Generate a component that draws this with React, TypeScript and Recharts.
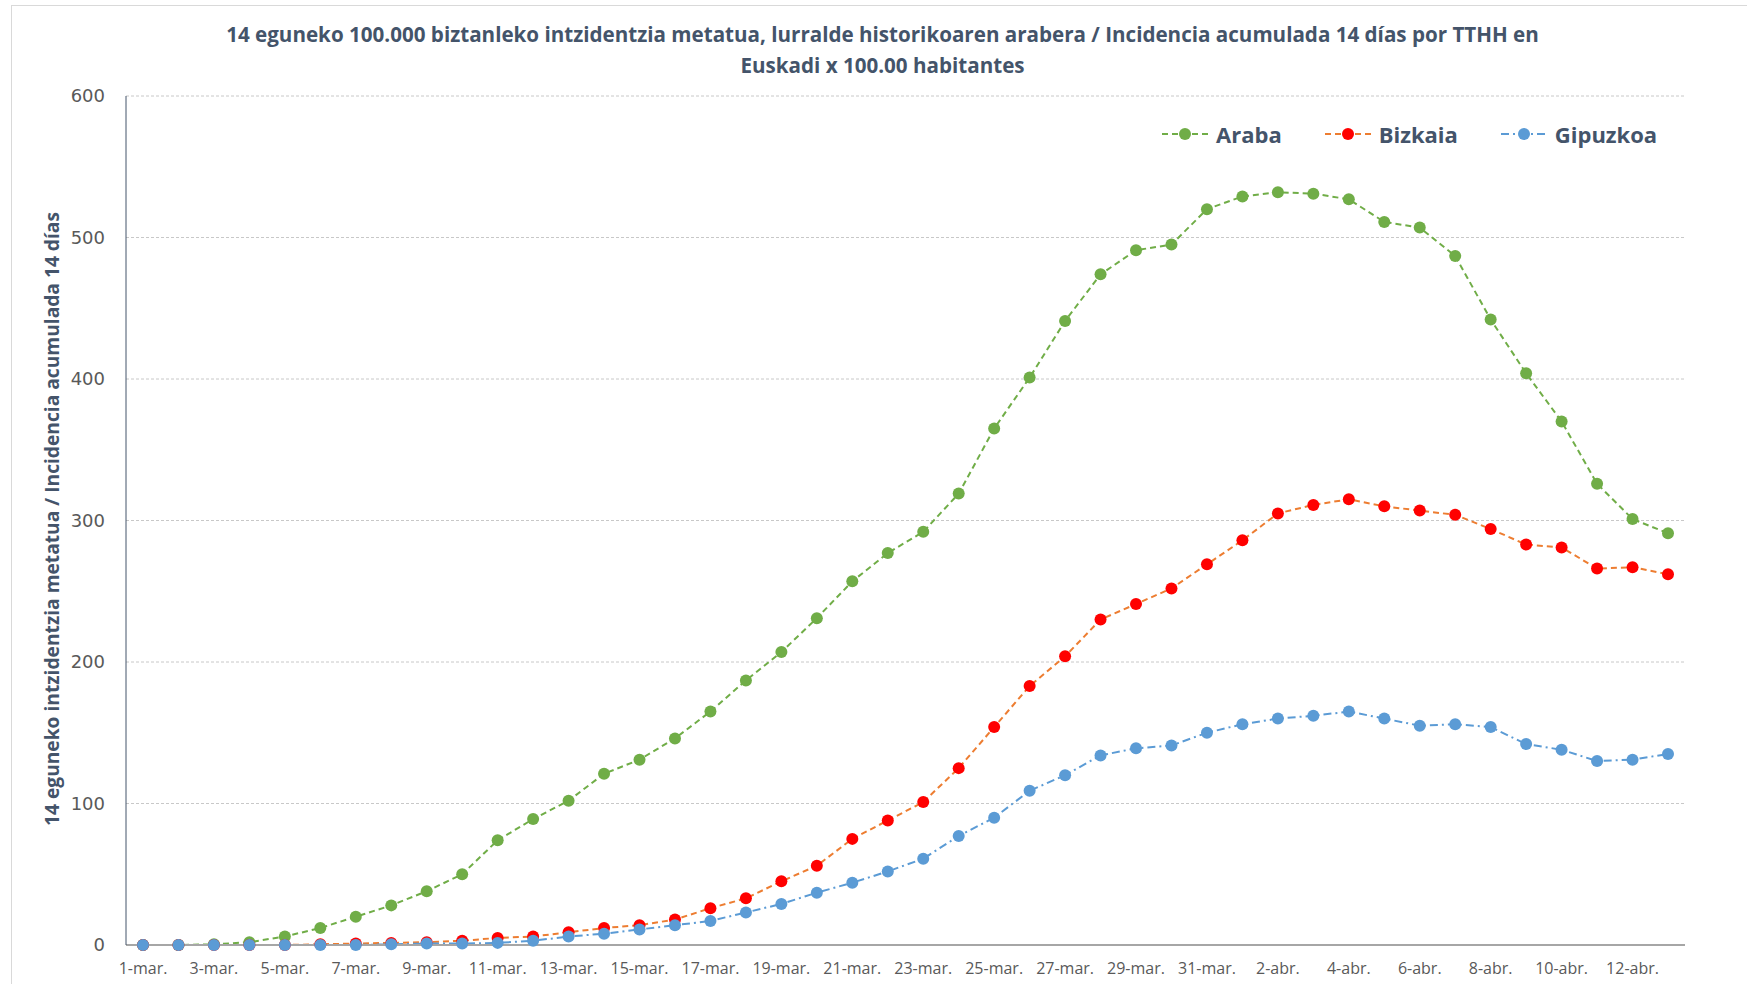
import { LineChart, Line, XAxis, YAxis, CartesianGrid } from "recharts";

const dates = [
  "1-mar.", "2-mar.", "3-mar.", "4-mar.", "5-mar.", "6-mar.", "7-mar.", "8-mar.", "9-mar.", "10-mar.",
  "11-mar.", "12-mar.", "13-mar.", "14-mar.", "15-mar.", "16-mar.", "17-mar.", "18-mar.", "19-mar.", "20-mar.",
  "21-mar.", "22-mar.", "23-mar.", "24-mar.", "25-mar.", "26-mar.", "27-mar.", "28-mar.", "29-mar.", "30-mar.",
  "31-mar.", "1-abr.", "2-abr.", "3-abr.", "4-abr.", "5-abr.", "6-abr.", "7-abr.", "8-abr.", "9-abr.",
  "10-abr.", "11-abr.", "12-abr.", "13-abr.",
];

const araba = [
  0, 0, 0.5, 2, 6, 12, 20, 28, 38, 50,
  74, 89, 102, 121, 131, 146, 165, 187, 207, 231,
  257, 277, 292, 319, 365, 401, 441, 474, 491, 495,
  520, 529, 532, 531, 527, 511, 507, 487, 442, 404,
  370, 326, 301, 291,
];

const bizkaia = [
  0, 0, 0, 0, 0, 0.5, 1, 1.5, 2, 3,
  5, 6, 9, 12, 14, 18, 26, 33, 45, 56,
  75, 88, 101, 125, 154, 183, 204, 230, 241, 252,
  269, 286, 305, 311, 315, 310, 307, 304, 294, 283,
  281, 266, 267, 262,
];

const gipuzkoa = [
  0, 0, 0, 0, 0, 0, 0, 0.5, 1, 1,
  1.5, 3, 6, 8, 11, 14, 17, 23, 29, 37,
  44, 52, 61, 77, 90, 109, 120, 134, 139, 141,
  150, 156, 160, 162, 165, 160, 155, 156, 154, 142,
  138, 130, 131, 135,
];

const yTicks = [0, 100, 200, 300, 400, 500, 600];

const seriesStyles = [
  { key: "Araba", line: "#70AD47", dot: "#70AD47", dash: "6 4" },
  { key: "Bizkaia", line: "#ED7D31", dot: "#FF0000", dash: "6 4" },
  { key: "Gipuzkoa", line: "#5B9BD5", dot: "#5B9BD5", dash: "8 4 2 4" },
];

const data = dates.map((d, i) => ({
  date: d,
  Araba: araba[i],
  Bizkaia: bizkaia[i],
  Gipuzkoa: gipuzkoa[i],
}));

const title1 =
  "14 eguneko 100.000 biztanleko intzidentzia metatua, lurralde historikoaren arabera / Incidencia acumulada 14 días por TTHH en";
const title2 = "Euskadi x 100.00 habitantes";
const yTitle = "14 eguneko intzidentzia metatua / Incidencia acumulada 14 días";

function LegendBox() {
  return (
    <div
      style={{
        position: "absolute",
        left: 1162,
        top: 120,
        display: "flex",
        alignItems: "center",
        fontFamily: "'Open Sans', sans-serif",
      }}
    >
      {seriesStyles.map((s) => (
        <div key={s.key} style={{ display: "flex", alignItems: "center", marginRight: 43 }}>
          <svg width={46} height={16}>
            <line x1={0} y1={8} x2={46} y2={8} stroke={s.line} strokeWidth={2} strokeDasharray={s.dash} />
            <circle cx={23} cy={8} r={6} fill={s.dot} />
          </svg>
          <span style={{ marginLeft: 8, fontSize: 22, fontWeight: 700, color: "#44546A", lineHeight: "28px" }}>
            {s.key}
          </span>
        </div>
      ))}
    </div>
  );
}

export default function App() {
  return (
    <div style={{ position: "absolute", left: 0, top: 0, width: 1747, height: 984, background: "#fff", overflow: "hidden" }}>
      <div
        style={{
          position: "absolute",
          left: 11,
          top: 5,
          width: 1800,
          height: 1000,
          border: "1px solid #D9D9D9",
        }}
      />
      <div
        style={{
          position: "absolute",
          left: 0,
          top: 19,
          width: 1747,
          textAlign: "center",
          fontFamily: "'Open Sans', sans-serif",
          fontWeight: 700,
          fontSize: 20.6,
          lineHeight: "31px",
          color: "#44546A",
        }}
      >
        <div style={{ paddingLeft: 18 }}>{title1}</div>
        <div style={{ paddingLeft: 18 }}>{title2}</div>
      </div>
      <div style={{ position: "absolute", left: 0, top: 0 }}>
        <LineChart width={1747} height={984} data={data} margin={{ top: 96, right: 62, bottom: 0, left: 0 }}>
          <CartesianGrid vertical={false} stroke="#C8C8C8" strokeDasharray="3 2" />
          <XAxis
            dataKey="date"
            interval={1}
            height={39}
            padding={{ left: 17, right: 17 }}
            tickLine={false}
            tickMargin={12}
            axisLine={{ stroke: "#A6A6A6", strokeWidth: 2 }}
            tick={{ fill: "#595959", fontSize: 16, fontFamily: "'Open Sans', sans-serif" }}
          />
          <YAxis
            width={126}
            domain={[0, 600]}
            ticks={yTicks}
            tickLine={false}
            tickMargin={15}
            axisLine={{ stroke: "#44546A", strokeWidth: 1 }}
            tick={{ fill: "#595959", fontSize: 18, fontFamily: "'DejaVu Sans', sans-serif" }}
            label={{
              content: () => (
                <text
                  x={51}
                  y={519}
                  transform="rotate(-90 51 519)"
                  textAnchor="middle"
                  dominantBaseline="central"
                  fill="#44546A"
                  fontWeight={700}
                  fontSize={19.2}
                  fontFamily="'Open Sans', sans-serif"
                >
                  {yTitle}
                </text>
              ),
            }}
          />
          {seriesStyles.map((s) => (
            <Line
              key={s.key}
              type="linear"
              dataKey={s.key}
              stroke={s.line}
              strokeWidth={2}
              strokeDasharray={s.dash}
              dot={{ r: 6, fill: s.dot, stroke: "none" }}
              activeDot={false}
              isAnimationActive={false}
            />
          ))}
        </LineChart>
      </div>
      <LegendBox />
    </div>
  );
}
